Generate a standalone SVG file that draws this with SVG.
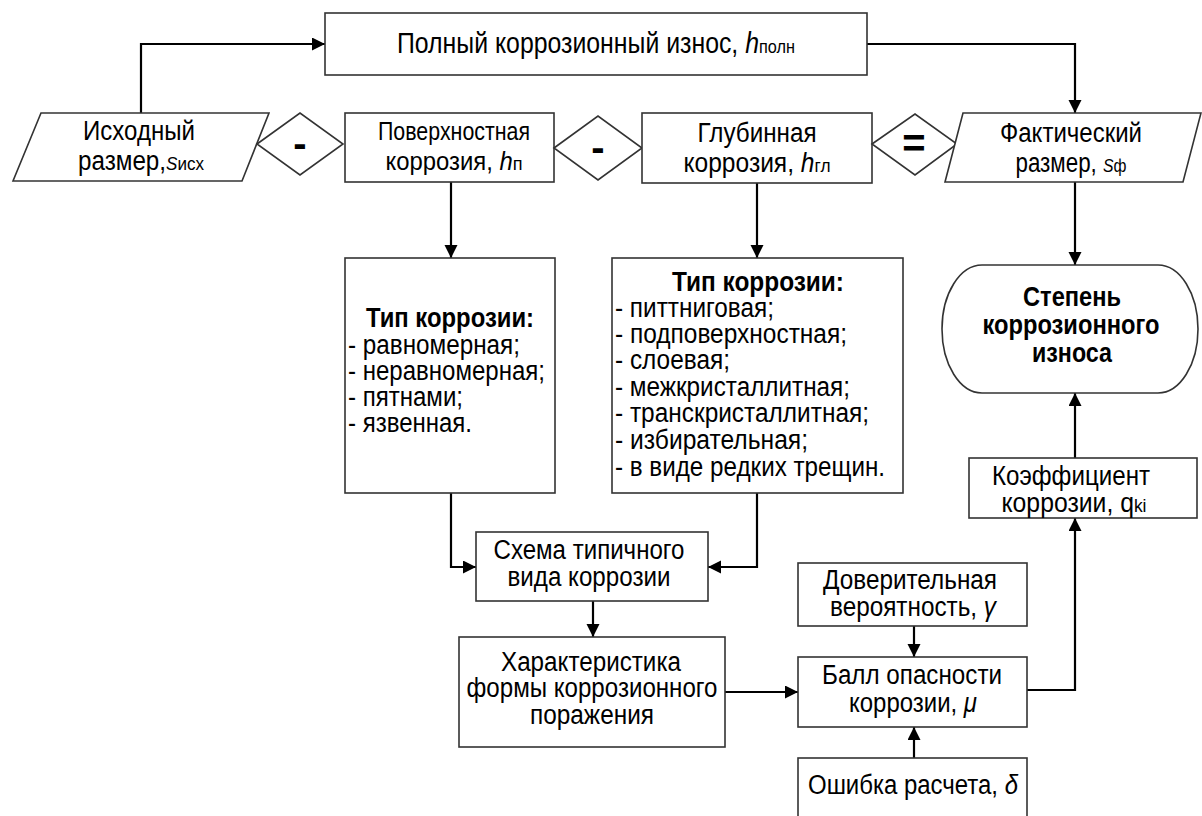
<svg xmlns="http://www.w3.org/2000/svg" width="1202" height="816" viewBox="0 0 1202 816">
<style>
.t{font-family:"Liberation Sans","Arial",sans-serif;font-size:27px;fill:#000;text-anchor:middle}
.l{text-anchor:start}
.b{font-weight:bold}
.i{font-style:italic}
.s{font-size:19px}
.box{fill:#fff;stroke:#333;stroke-width:1.6}
.conn{fill:none;stroke:#000;stroke-width:2.2}
.op{font-family:"Liberation Sans","Arial",sans-serif;font-weight:bold;font-size:40px;text-anchor:middle;fill:#000}
</style>
<defs>
<marker id="ah" markerUnits="userSpaceOnUse" markerWidth="14" markerHeight="14" refX="13" refY="6.5" orient="auto">
<path d="M0,0 L13,6.5 L0,13 z" fill="#000"/>
</marker>
</defs>
<rect width="1202" height="816" fill="#fff"/>

<g id="connectors">
<path class="conn" d="M141,113 V44 H325" marker-end="url(#ah)"/>
<path class="conn" d="M867,44 H1075 V113" marker-end="url(#ah)"/>
<path class="conn" d="M451,182 V258" marker-end="url(#ah)"/>
<path class="conn" d="M757,183 V258" marker-end="url(#ah)"/>
<path class="conn" d="M1075,182 V265" marker-end="url(#ah)"/>
<path class="conn" d="M1075,458 V393" marker-end="url(#ah)"/>
<path class="conn" d="M451,493 V567 H476" marker-end="url(#ah)"/>
<path class="conn" d="M757,493 V567 H708" marker-end="url(#ah)"/>
<path class="conn" d="M593,601 V637" marker-end="url(#ah)"/>
<path class="conn" d="M725,692 H798" marker-end="url(#ah)"/>
<path class="conn" d="M914,626 V657" marker-end="url(#ah)"/>
<path class="conn" d="M914,758 V727" marker-end="url(#ah)"/>
<path class="conn" d="M1027,690 H1075 V518" marker-end="url(#ah)"/>
</g>

<g id="full-wear">
<rect class="box" x="325" y="13" width="542" height="62"/>
<text class="t" x="596" y="53" style="font-size:29px" textLength="398" lengthAdjust="spacingAndGlyphs">Полный коррозионный износ, <tspan class="i">h</tspan><tspan class="s">полн</tspan></text>
</g>

<g id="initial-size">
<polygon class="box" points="41,113 269,113 242,181 13,181"/>
<text class="t" x="139" y="140" textLength="112" lengthAdjust="spacingAndGlyphs">Исходный</text>
<text class="t" x="141" y="170" textLength="126" lengthAdjust="spacingAndGlyphs">размер,<tspan class="s i">S</tspan><tspan class="s">исх</tspan></text>
</g>

<g id="op-minus-1">
<polygon class="box" points="257,144 300,113 343,144 300,175"/>
<text class="op" x="300" y="157">-</text>
</g>

<g id="surface-corrosion">
<rect class="box" x="345" y="113" width="209" height="69"/>
<text class="t" x="454" y="140" style="font-size:25px" textLength="152" lengthAdjust="spacingAndGlyphs">Поверхностная</text>
<text class="t" x="454" y="170" style="font-size:25px" textLength="137" lengthAdjust="spacingAndGlyphs">коррозия, <tspan class="i">h</tspan><tspan class="s">п</tspan></text>
</g>

<g id="op-minus-2">
<polygon class="box" points="554,148 598,116 642,148 598,180"/>
<text class="op" x="598" y="161">-</text>
</g>

<g id="deep-corrosion">
<rect class="box" x="642" y="113" width="230" height="70"/>
<text class="t" x="757" y="142" textLength="119" lengthAdjust="spacingAndGlyphs">Глубинная</text>
<text class="t" x="757" y="172" textLength="147" lengthAdjust="spacingAndGlyphs">коррозия, <tspan class="i">h</tspan><tspan class="s">гл</tspan></text>
</g>

<g id="op-equals">
<polygon class="box" points="872,144 915,114 957,144 915,175"/>
<text class="op" x="914" y="157">=</text>
</g>

<g id="actual-size">
<polygon class="box" points="963,113 1201,113 1183,182 945,182"/>
<text class="t" x="1071" y="142" textLength="142" lengthAdjust="spacingAndGlyphs">Фактический</text>
<text class="t" x="1071" y="172" textLength="111" lengthAdjust="spacingAndGlyphs">размер, <tspan class="s i">S</tspan><tspan class="s">ф</tspan></text>
</g>

<g id="types-surface">
<rect class="box" x="345" y="258" width="210" height="235"/>
<text class="t b" x="450" y="327" textLength="168" lengthAdjust="spacingAndGlyphs">Тип коррозии:</text>
<text class="t l" x="348" y="354" textLength="172" lengthAdjust="spacingAndGlyphs">- равномерная;</text>
<text class="t l" x="348" y="380" textLength="197" lengthAdjust="spacingAndGlyphs">- неравномерная;</text>
<text class="t l" x="348" y="406" textLength="115" lengthAdjust="spacingAndGlyphs">- пятнами;</text>
<text class="t l" x="348" y="432" textLength="124" lengthAdjust="spacingAndGlyphs">- язвенная.</text>
</g>

<g id="types-deep">
<rect class="box" x="612" y="258" width="291" height="235"/>
<text class="t b" x="758" y="291" textLength="172" lengthAdjust="spacingAndGlyphs">Тип коррозии:</text>
<text class="t l" x="615" y="317" textLength="159" lengthAdjust="spacingAndGlyphs">- питтниговая;</text>
<text class="t l" x="615" y="343" textLength="232" lengthAdjust="spacingAndGlyphs">- подповерхностная;</text>
<text class="t l" x="615" y="369" textLength="115" lengthAdjust="spacingAndGlyphs">- слоевая;</text>
<text class="t l" x="615" y="396" textLength="235" lengthAdjust="spacingAndGlyphs">- межкристаллитная;</text>
<text class="t l" x="615" y="422" textLength="254" lengthAdjust="spacingAndGlyphs">- транскристаллитная;</text>
<text class="t l" x="615" y="449" textLength="193" lengthAdjust="spacingAndGlyphs">- избирательная;</text>
<text class="t l" x="615" y="476" textLength="270" lengthAdjust="spacingAndGlyphs">- в виде редких трещин.</text>
</g>

<g id="wear-degree">
<path class="box" d="M982,265 H1158 A40,64 0 0 1 1158,393 H982 A40,64 0 0 1 982,265 Z"/>
<text class="t b" x="1072" y="306" textLength="98" lengthAdjust="spacingAndGlyphs">Степень</text>
<text class="t b" x="1071" y="334" textLength="177" lengthAdjust="spacingAndGlyphs">коррозионного</text>
<text class="t b" x="1072" y="362" textLength="80" lengthAdjust="spacingAndGlyphs">износа</text>
</g>

<g id="coefficient">
<rect class="box" x="969" y="458" width="228" height="60"/>
<text class="t" x="1071" y="485" textLength="158" lengthAdjust="spacingAndGlyphs">Коэффициент</text>
<text class="t" x="1074" y="512" textLength="145" lengthAdjust="spacingAndGlyphs">коррозии, q<tspan class="s">ki</tspan></text>
</g>

<g id="scheme">
<rect class="box" x="476" y="532" width="232" height="69"/>
<text class="t" x="589" y="559" textLength="191" lengthAdjust="spacingAndGlyphs">Схема типичного</text>
<text class="t" x="589" y="586" textLength="163" lengthAdjust="spacingAndGlyphs">вида коррозии</text>
</g>

<g id="characteristic">
<rect class="box" x="459" y="637" width="266" height="110"/>
<text class="t" x="591" y="671" textLength="180" lengthAdjust="spacingAndGlyphs">Характеристика</text>
<text class="t" x="592" y="697" textLength="251" lengthAdjust="spacingAndGlyphs">формы коррозионного</text>
<text class="t" x="592" y="724" textLength="124" lengthAdjust="spacingAndGlyphs">поражения</text>
</g>

<g id="confidence">
<rect class="box" x="798" y="563" width="229" height="63"/>
<text class="t" x="910" y="589" textLength="174" lengthAdjust="spacingAndGlyphs">Доверительная</text>
<text class="t" x="913" y="616" textLength="166" lengthAdjust="spacingAndGlyphs">вероятность, <tspan class="i">γ</tspan></text>
</g>

<g id="hazard">
<rect class="box" x="798" y="657" width="229" height="70"/>
<text class="t" x="912" y="684" textLength="180" lengthAdjust="spacingAndGlyphs">Балл опасности</text>
<text class="t" x="913" y="712" textLength="128" lengthAdjust="spacingAndGlyphs">коррозии, <tspan class="i">μ</tspan></text>
</g>

<g id="error">
<rect class="box" x="798" y="758" width="229" height="80"/>
<text class="t" x="913" y="794" textLength="210" lengthAdjust="spacingAndGlyphs">Ошибка расчета, <tspan class="i">δ</tspan></text>
</g>
</svg>
